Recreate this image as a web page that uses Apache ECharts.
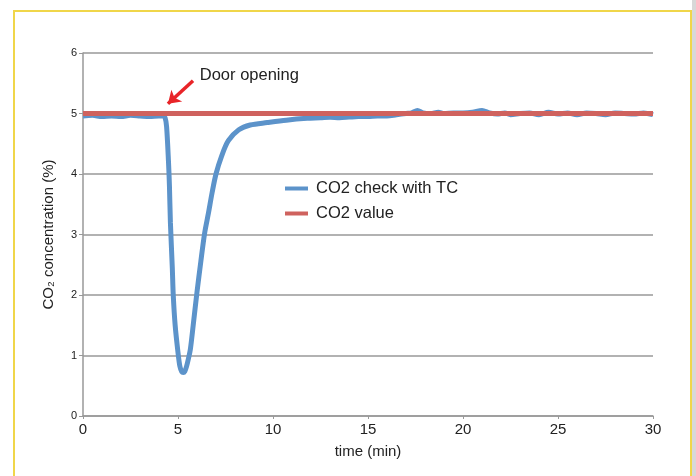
<!DOCTYPE html>
<html>
<head>
<meta charset="utf-8">
<script src="https://cdn.jsdelivr.net/npm/echarts@6/dist/echarts.min.js"></script>
<style>
html,body{margin:0;padding:0;background:#fff;}
#c{width:696px;height:476px;}
</style>
</head>
<body>
<div id="c"></div>
<script>
var checkTime = [0, 0.5, 1, 1.5, 2, 2.5, 3, 3.5, 4, 4.2, 4.32, 4.4, 4.5, 4.55, 4.6, 4.7, 4.75, 4.85, 5.0, 5.1, 5.2, 5.28, 5.36, 5.45, 5.55, 5.65, 5.8, 6.0, 6.2, 6.4, 6.6, 6.8, 7.0, 7.3, 7.65, 8.2, 8.8, 9.7, 10.7, 11.8, 12.5, 13, 13.5, 14, 14.5, 15, 15.5, 16, 16.5, 17, 17.3, 17.6, 17.9, 18.3, 18.7, 19, 19.5, 20, 20.5, 21, 21.4, 21.8, 22.2, 22.5, 23, 23.5, 24, 24.5, 25, 25.5, 26, 26.5, 27, 27.5, 28, 28.5, 29, 29.5, 30];
var checkValue = [4.96, 4.97, 4.95, 4.96, 4.95, 4.97, 4.96, 4.95, 4.96, 4.96, 4.93, 4.78, 4.2, 3.8, 3.2, 2.45, 2.0, 1.5, 1.05, 0.82, 0.73, 0.72, 0.74, 0.82, 0.95, 1.1, 1.5, 2.05, 2.55, 3.02, 3.35, 3.7, 4.0, 4.3, 4.55, 4.73, 4.81, 4.85, 4.89, 4.92, 4.93, 4.94, 4.93, 4.94, 4.95, 4.95, 4.96, 4.96, 4.98, 5.0, 5.01, 5.05, 5.01, 5.0, 5.02, 5.0, 5.01, 5.01, 5.02, 5.05, 5.01, 4.99, 5.01, 4.98, 5.0, 5.01, 4.98, 5.02, 4.99, 5.01, 4.98, 5.01, 5.0, 4.98, 5.01, 5.0, 4.99, 5.01, 4.98];
var setTime = [0, 30];
var setValue = [5, 5];
var seriesNames = ['CO2 check with TC', 'CO2 value'];
var annotationText = 'Door opening';
var arrowFrom = [5.79, 5.54];
var arrowTo = [4.47, 5.16];
var textAt = [6.12, 5.63];

function pairs(xs, ys) { return xs.map(function (x, i) { return [x, ys[i]]; }); }

var font = "'Liberation Sans', Arial, Helvetica, sans-serif";
var chart = echarts.init(document.getElementById('c'));
chart.setOption({
  backgroundColor: '#fff',
  animation: false,
  textStyle: { fontFamily: font },
  grid: { left: 83, right: 43, top: 53, bottom: 60 },
  legend: {
    data: seriesNames,
    orient: 'vertical',
    left: 280,
    top: 175,
    icon: 'rect',
    itemWidth: 23,
    itemHeight: 4,
    itemGap: 8,
    textStyle: { fontSize: 16.5, color: '#222', fontFamily: font, padding: [0, 0, 0, 3] }
  },
  xAxis: {
    type: 'value',
    min: 0, max: 30, interval: 5,
    name: 'time (min)',
    nameLocation: 'middle',
    nameGap: 28,
    nameTextStyle: { fontSize: 15, color: '#222', fontFamily: font },
    axisLine: { lineStyle: { color: '#999', width: 1.5 } },
    axisTick: { show: true, inside: false, length: 3, lineStyle: { color: '#999' } },
    axisLabel: { fontSize: 15, color: '#222', margin: 6, fontFamily: font },
    splitLine: { show: false }
  },
  yAxis: {
    type: 'value',
    min: 0, max: 6, interval: 1,
    name: 'CO\u2082 concentration (%)',
    nameLocation: 'middle',
    nameGap: 27,
    nameRotate: 90,
    nameTextStyle: { fontSize: 15, color: '#222', fontFamily: font },
    axisLine: { show: true, lineStyle: { color: '#999', width: 1.5 } },
    axisTick: { show: true, length: 4, lineStyle: { color: '#999' } },
    axisLabel: { fontSize: 11, color: '#222', margin: 6, fontFamily: font },
    splitLine: { show: true, lineStyle: { color: '#999', width: 1.5 } }
  },
  series: [
    {
      name: seriesNames[0],
      type: 'line',
      data: pairs(checkTime, checkValue),
      smooth: 0.3,
      showSymbol: false,
      color: '#5c93ca',
      lineStyle: { color: '#5c93ca', width: 5 },
      z: 2
    },
    {
      name: seriesNames[1],
      type: 'line',
      data: pairs(setTime, setValue),
      showSymbol: false,
      color: '#cf625e',
      lineStyle: { color: '#cf625e', width: 5 },
      z: 3,
      markLine: {
        silent: true,
        symbol: ['none', 'arrow'],
        symbolSize: [12, 12],
        label: { show: false },
        lineStyle: { color: '#e82428', width: 3.5, type: 'solid' },
        data: [[{ coord: arrowFrom }, { coord: arrowTo }]]
      },
      markPoint: {
        silent: true,
        symbol: 'circle',
        symbolSize: 1,
        itemStyle: { color: 'rgba(0,0,0,0)' },
        label: {
          show: true,
          position: 'right',
          distance: 0,
          formatter: annotationText,
          fontSize: 16.5,
          color: '#222',
          fontFamily: font
        },
        data: [{ coord: textAt }]
      }
    }
  ],
  graphic: [
    { type: 'rect', shape: { x: 692, y: 0, width: 4, height: 476 }, style: { fill: '#d8d8d8' }, silent: true },
    { type: 'rect', shape: { x: 14, y: 11, width: 677, height: 470 }, style: { fill: 'none', stroke: '#f0d64a', lineWidth: 2 }, silent: true }
  ]
});
</script>
</body>
</html>
